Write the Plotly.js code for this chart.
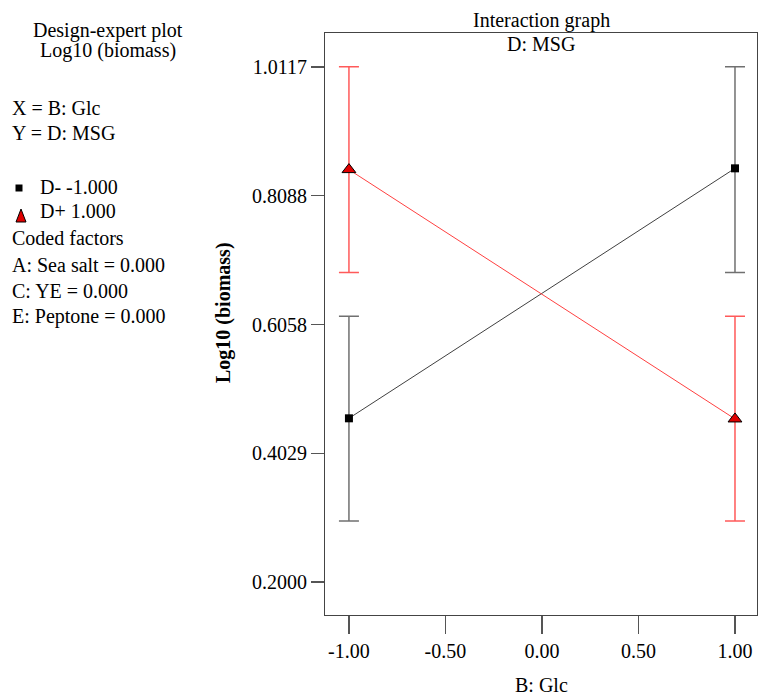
<!DOCTYPE html>
<html><head><meta charset="utf-8">
<script src="https://cdn.plot.ly/plotly-3.0.1.min.js"></script>
<style>html,body{margin:0;padding:0;background:#fff}</style>
</head><body><div id="chart" style="width:758px;height:695px"></div>
<script>
const glcLevels = [-1, 1];
const dMinusMean = [0.458, 0.852];
const dMinusErrPlus = [0.161, 0.160];
const dMinusErrMinus = [0.162, 0.164];
const dPlusMean = [0.850, 0.457];
const dPlusErrPlus = [0.162, 0.162];
const dPlusErrMinus = [0.162, 0.161];
const yTicks = [0.2000, 0.4029, 0.6058, 0.8088, 1.0117];
const xTicks = [-1, -0.5, 0, 0.5, 1];
const xTickText = ['-1.00', '-0.50', '0.00', '0.50', '1.00'];
const seriesNames = ['D- -1.000', 'D+ 1.000'];

const F = '"Liberation Serif", "Times New Roman", serif';
const FS = 20;

const traces = [
  {x: glcLevels, y: dMinusMean, type: 'scatter', mode: 'lines+markers', name: seriesNames[0], showlegend: false,
   line: {color: '#404040', width: 1},
   marker: {symbol: 'square', size: 8, color: '#000'},
   error_y: {type: 'data', array: dMinusErrPlus, arrayminus: dMinusErrMinus, color: '#707070', thickness: 1.5, width: 10}},
  {x: glcLevels, y: dPlusMean, type: 'scatter', mode: 'lines+markers', name: seriesNames[1], showlegend: false,
   line: {color: '#ff4040', width: 1},
   marker: {symbol: 'triangle-up', size: 12, color: '#e00000', line: {color: '#000', width: 1}},
   error_y: {type: 'data', array: dPlusErrPlus, arrayminus: dPlusErrMinus, color: '#ff5a5a', thickness: 1.5, width: 10}}
];

function ann(text, x, y, opts) {
  return Object.assign({text: text, x: x, y: y, xref: 'paper', yref: 'paper', showarrow: false,
    xanchor: 'left', yanchor: 'middle', font: {family: F, size: FS, color: '#000'}}, opts || {});
}
const L = 325, W = 432, B = 615, H = 582;
const px = v => (v - L) / W;
const py = v => (B - v) / H;

const layout = {
  width: 758, height: 695,
  margin: {l: L, r: 758 - L - W, t: 33, b: 695 - B},
  paper_bgcolor: '#fff', plot_bgcolor: '#fff',
  showlegend: false,
  font: {family: F, size: FS, color: '#000'},
  xaxis: {range: [-1.124, 1.114], tickvals: xTicks, ticktext: xTickText, ticks: 'outside', ticklen: 18,
    tickcolor: '#555', tickwidth: 1.5, showgrid: false, zeroline: false, showline: true, mirror: true,
    linecolor: '#444', linewidth: 1, tickfont: {family: F, size: FS, color: '#000'}},
  yaxis: {range: [0.148, 1.0653], tickvals: yTicks, ticktext: yTicks.map(v => v.toFixed(4)), ticks: 'outside', ticklen: 13,
    tickcolor: '#555', tickwidth: 1.5, showgrid: false, zeroline: false, showline: true, mirror: true,
    linecolor: '#444', linewidth: 1, tickfont: {family: F, size: FS, color: '#000'}},
  shapes: [
    {type: 'rect', xref: 'paper', yref: 'paper', x0: px(15.5), x1: px(22.5), y0: py(191.5), y1: py(184.5),
     fillcolor: '#000', line: {width: 0}},
    {type: 'path', xref: 'paper', yref: 'paper',
     path: 'M ' + px(16) + ' ' + py(222) + ' L ' + px(26) + ' ' + py(222) + ' L ' + px(21) + ' ' + py(209) + ' Z',
     fillcolor: '#e00000', line: {color: '#000', width: 1}}
  ],
  annotations: [
    ann('Design-expert plot', px(108), py(30), {xanchor: 'center'}),
    ann('Log10 (biomass)', px(108), py(50), {xanchor: 'center'}),
    ann('X = B: Glc', px(10), py(108)),
    ann('Y = D: MSG', px(10), py(133)),
    ann(seriesNames[0], px(38), py(187)),
    ann(seriesNames[1], px(38), py(211)),
    ann('Coded factors', px(10), py(238)),
    ann('A: Sea salt = 0.000', px(10), py(265)),
    ann('C: YE = 0.000', px(10), py(291)),
    ann('E: Peptone = 0.000', px(10), py(316)),
    ann('Interaction graph', 0.5, py(20), {xanchor: 'center'}),
    ann('D: MSG', 0.5, py(44), {xanchor: 'center'}),
    ann('B: Glc', 0.5, py(685), {xanchor: 'center'}),
    ann('<b>Log10 (biomass)</b>', px(223), py(313), {xanchor: 'center', textangle: -90})
  ]
};
Plotly.newPlot('chart', traces, layout, {displayModeBar: false, staticPlot: true});
</script></body></html>
